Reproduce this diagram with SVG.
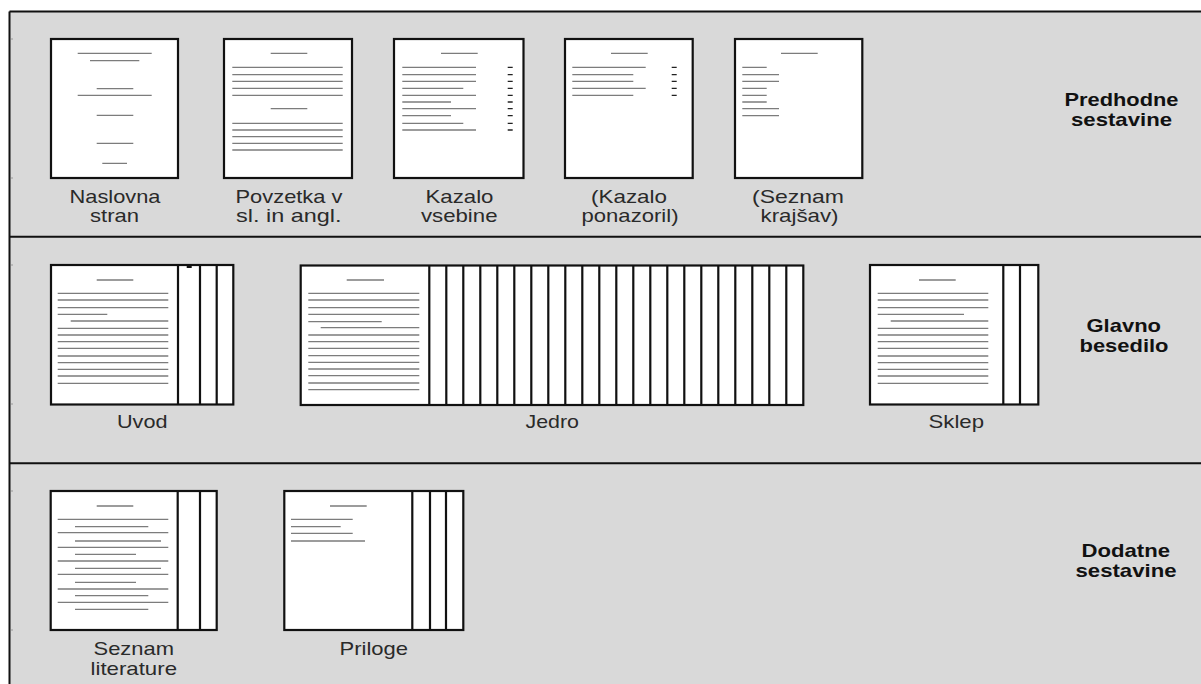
<svg xmlns="http://www.w3.org/2000/svg" width="1201" height="684" viewBox="0 0 1201 684">
<style>
.pg{fill:#fff;stroke:#111;stroke-width:2.2}
.st{stroke:#111;stroke-width:2.2;fill:none}
.tl{stroke:#7c7c7c;stroke-width:1.3;fill:none}
.ds{stroke:#222;stroke-width:1.3;fill:none}
.div{stroke:#111;stroke-width:2;fill:none}
.lb{font-family:"Liberation Sans",Arial,sans-serif;font-size:19px;fill:#2a2a2a}
.hd{font-family:"Liberation Sans",Arial,sans-serif;font-size:18.5px;font-weight:bold;fill:#111}
.tk{stroke:#9a9a9a;stroke-width:1.2}
</style>
<rect x="0" y="0" width="1201" height="684" fill="#fff"/>
<rect x="9" y="11" width="1192" height="673" fill="#d9d9d9"/>
<g id="frame">
<path class="div" d="M9.5 11.5H1201M9.5 11.5V684M9 236.8H1201M9 463.3H1201"/>
<path class="tk" d="M11 39H13M11 178H13M11 265H13M11 404H13M11 491H13M11 630H13"/>
</g>
<g id="connectors"/>

<g id="sec-predhodne">
<text class="hd" x="1064.5" y="106" textLength="114" lengthAdjust="spacingAndGlyphs">Predhodne</text>
<text class="hd" x="1071" y="126" textLength="101" lengthAdjust="spacingAndGlyphs">sestavine</text>
</g>
<g id="sec-glavno">
<text class="hd" x="1086.5" y="331.7" textLength="74.5" lengthAdjust="spacingAndGlyphs">Glavno</text>
<text class="hd" x="1079.5" y="351.7" textLength="89" lengthAdjust="spacingAndGlyphs">besedilo</text>
</g>
<g id="sec-dodatne">
<text class="hd" x="1081.5" y="556.7" textLength="88.5" lengthAdjust="spacingAndGlyphs">Dodatne</text>
<text class="hd" x="1075.5" y="577.3" textLength="101" lengthAdjust="spacingAndGlyphs">sestavine</text>
</g>

<g id="naslovna">
<rect class="pg" x="51" y="39" width="127" height="139"/>
<path class="tl" d="M77.7 53.3H151.7M90 60.7H139.3M96.7 88.7H133.3M77.7 95.3H151.7M96.7 115.3H133.3M96.7 143.3H133.3M102.3 163.3H127"/>
<text class="lb" x="69.5" y="202.7" textLength="91" lengthAdjust="spacingAndGlyphs">Naslovna</text>
<text class="lb" x="90" y="221.7" textLength="49" lengthAdjust="spacingAndGlyphs">stran</text>
</g>

<g id="povzetka">
<rect class="pg" x="224" y="39" width="128" height="139"/>
<path class="tl" d="M270.7 53.3H307.3M232.3 67.3H342.7M232.3 74.7H342.7M232.3 81.3H342.7M232.3 88.3H342.7M232.3 95.3H342.7M270.7 108.7H307.3M232.3 123.3H342.7M232.3 130H342.7M232.3 136.7H342.7M232.3 143.3H342.7M232.3 150H342.7"/>
<text class="lb" x="235.5" y="202.7" textLength="107" lengthAdjust="spacingAndGlyphs">Povzetka v</text>
<text class="lb" x="236" y="221.7" textLength="105.5" lengthAdjust="spacingAndGlyphs">sl. in  angl.</text>
</g>

<g id="kazalo-vsebine">
<rect class="pg" x="394" y="39" width="129.5" height="139"/>
<path class="tl" d="M441 53.3H477.7M402.3 67.3H476M402.3 74.7H476M402.3 81.3H476M402.3 88.3H463.3M402.3 95.3H476M402.3 102H451M402.3 108.7H476M402.3 115.7H451M402.3 123.3H463.3M402.3 130H476"/>
<path class="ds" d="M507.7 67.3H512.7M507.7 74.7H512.7M507.7 81.3H512.7M507.7 88.3H512.7M507.7 95.3H512.7M507.7 102H512.7M507.7 108.7H512.7M507.7 115.7H512.7M507.7 123.3H512.7M507.7 130H512.7"/>
<text class="lb" x="425.5" y="202.7" textLength="68" lengthAdjust="spacingAndGlyphs">Kazalo</text>
<text class="lb" x="421" y="221.7" textLength="76.5" lengthAdjust="spacingAndGlyphs">vsebine</text>
</g>

<g id="kazalo-ponazoril">
<rect class="pg" x="565" y="39" width="127.7" height="139"/>
<path class="tl" d="M611 53.3H647.7M572.3 67.3H645.7M572.3 74.7H633.3M572.3 81.3H633.3M572.3 88.3H645.7M572.3 95.3H633.3"/>
<path class="ds" d="M671.7 67.3H676.7M671.7 74.7H676.7M671.7 81.3H676.7M671.7 88.3H676.7M671.7 95.3H676.7"/>
<text class="lb" x="591" y="202.7" textLength="76" lengthAdjust="spacingAndGlyphs">(Kazalo</text>
<text class="lb" x="581.5" y="221.7" textLength="97" lengthAdjust="spacingAndGlyphs">ponazoril)</text>
</g>

<g id="seznam-krajsav">
<rect class="pg" x="735" y="39" width="127.3" height="139"/>
<path class="tl" d="M781 53.3H817.7M742.3 67.3H766.7M742.3 74.7H779M742.3 81.3H779M742.3 88.3H766.7M742.3 95.3H766.7M742.3 102H766.7M742.3 108.7H779M742.3 115.7H779"/>
<text class="lb" x="752" y="202.7" textLength="92" lengthAdjust="spacingAndGlyphs">(Seznam</text>
<text class="lb" x="760.5" y="221.7" textLength="78" lengthAdjust="spacingAndGlyphs">krajšav)</text>
</g>

<g id="uvod">
<rect class="pg" x="51" y="265" width="182.3" height="139.5"/>
<path class="st" d="M178 265V404.5M200 265V404.5M216.7 265V404.5"/>
<rect x="186.7" y="265" width="5" height="3" fill="#111"/>
<path class="tl" d="M96.7 280H133.3M57.7 293.3H168.3M57.7 300H168.3M57.7 307.7H168.3M57.7 314.3H107.3M70.7 321H168.3M57.7 328.3H168.3M57.7 335H168.3M57.7 341.7H168.3M57.7 348.3H168.3M57.7 356H168.3M57.7 362.7H168.3M57.7 369.3H168.3M57.7 376H168.3M57.7 383.3H168.3"/>
<text class="lb" x="117" y="428.3" textLength="50.5" lengthAdjust="spacingAndGlyphs">Uvod</text>
</g>

<g id="jedro">
<rect class="pg" x="300.7" y="265.5" width="502.6" height="139.5"/>
<path class="st" d="M429.3 265.5V405M446.3 265.5V405M463.3 265.5V405M480.3 265.5V405M497.3 265.5V405M514.3 265.5V405M531.3 265.5V405M548.3 265.5V405M565.3 265.5V405M582.3 265.5V405M599.3 265.5V405M616.3 265.5V405M633.3 265.5V405M650.3 265.5V405M667.3 265.5V405M684.3 265.5V405M701.3 265.5V405M718.3 265.5V405M735.3 265.5V405M752.3 265.5V405M769.3 265.5V405M786.3 265.5V405"/>
<path class="tl" d="M346.7 280H384M308.3 293.3H419.3M308.3 300H419.3M308.3 307.7H419.3M308.3 314.3H419.3M308.3 321.7H381.7M320.7 327.7H419.3M308.3 335H419.3M308.3 341.7H419.3M308.3 348.3H419.3M308.3 355.7H419.3M308.3 362.3H419.3M308.3 369H419.3M308.3 375.7H419.3M308.3 383H419.3M308.3 389.7H419.3"/>
<text class="lb" x="525.5" y="428.3" textLength="53.5" lengthAdjust="spacingAndGlyphs">Jedro</text>
</g>

<g id="sklep">
<rect class="pg" x="870" y="265" width="168.3" height="139.5"/>
<path class="st" d="M1003.3 265V404.5M1020 265V404.5"/>
<path class="tl" d="M919 280H955.7M877.7 293.3H988.3M877.7 300H988.3M877.7 307.7H988.3M877.7 314.3H964M890.7 321H988.3M877.7 328.3H988.3M877.7 335H988.3M877.7 341.7H988.3M877.7 348.3H988.3M877.7 356H988.3M877.7 362.7H988.3M877.7 369.3H988.3M877.7 376H988.3M877.7 383.3H988.3"/>
<text class="lb" x="928.5" y="428.3" textLength="55.5" lengthAdjust="spacingAndGlyphs">Sklep</text>
</g>

<g id="seznam-literature">
<rect class="pg" x="50.7" y="491" width="166" height="139"/>
<path class="st" d="M177.7 491V630M200 491V630"/>
<path class="tl" d="M96.7 506H133.3M57.7 519.3H168.3M75 526.7H148.3M57.7 532.7H168.3M75 541H161M57.7 547.3H168.3M75 554.3H136M57.7 561H168.3M75 568.3H161M57.7 574.3H168.3M75 582.3H136M57.7 589H168.3M75 595.7H148.3M57.7 602.3H168.3M75 609.3H148.3"/>
<text class="lb" x="93.5" y="655" textLength="80.5" lengthAdjust="spacingAndGlyphs">Seznam</text>
<text class="lb" x="90.5" y="675" textLength="86.5" lengthAdjust="spacingAndGlyphs">literature</text>
</g>

<g id="priloge">
<rect class="pg" x="284.3" y="491" width="179" height="139"/>
<path class="st" d="M412.3 491V630M430 491V630M446 491V630"/>
<path class="tl" d="M330 506H366.7M291 519.3H352.7M291 526.7H340.7M291 533.3H352.7M291 541H365"/>
<text class="lb" x="339.5" y="655" textLength="68.5" lengthAdjust="spacingAndGlyphs">Priloge</text>
</g>
</svg>
